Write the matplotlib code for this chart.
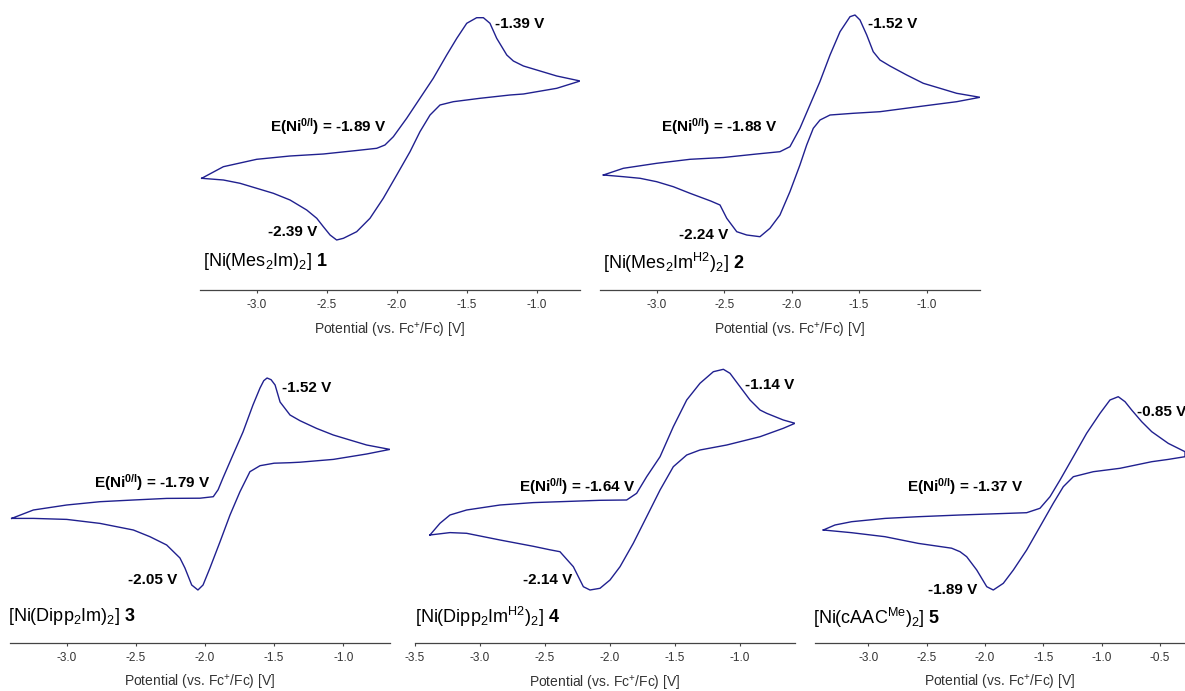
import matplotlib.pyplot as plt

# -------------------- STYLE --------------------
plt.rcParams.update({
    "font.family": ["Liberation Sans", "DejaVu Sans"],
    "mathtext.fontset": "custom",
    "mathtext.rm": "Liberation Sans",
    "mathtext.it": "Liberation Sans:italic",
    "mathtext.bf": "Liberation Sans:bold",
    "mathtext.default": "regular",
    "axes.unicode_minus": False,
})

CV_COLOR = "#20208f"
AXIS_COLOR = "#444444"
TEXT_COLOR = "#333333"

# -------------------- DATA (potential in V vs Fc+/Fc, current in a.u.) --------------------
# 1: [Ni(Mes2Im)2]  -- forward sweep then return sweep
p1_pot = [-3.393, -3.238, -3.000, -2.762, -2.524, -2.286, -2.143, -2.084, -2.024, -1.929,
          -1.834, -1.739, -1.643, -1.571, -1.500, -1.429, -1.381, -1.334, -1.286, -1.214,
          -1.167, -1.095, -0.976, -0.857, -0.690,
          -0.857, -1.095, -1.191, -1.405, -1.596, -1.691, -1.762, -1.834, -1.905, -2.000,
          -2.096, -2.191, -2.286, -2.381, -2.429, -2.476, -2.524, -2.571, -2.643, -2.762,
          -2.881, -3.000, -3.119, -3.238, -3.393]
p1_cur = [11.17, 12.33, 13.07, 13.40, 13.60, 13.95, 14.17, 14.50, 15.33, 17.17,
          19.17, 21.17, 23.50, 25.17, 26.67, 27.23, 27.23, 26.67, 25.17, 23.50,
          22.90, 22.40, 21.90, 21.40, 20.90,
          20.17, 19.60, 19.50, 19.17, 18.83, 18.50, 17.50, 15.83, 13.83, 11.50,
          9.17, 7.17, 5.83, 5.17, 5.00, 5.50, 6.33, 7.17, 8.00, 9.00,
          9.67, 10.17, 10.67, 11.00, 11.17]

# 2: [Ni(Mes2Im^H2)2]
p2_pot = [-3.395, -3.247, -3.000, -2.753, -2.506, -2.259, -2.087, -2.013, -1.939, -1.865,
          -1.791, -1.716, -1.642, -1.568, -1.531, -1.494, -1.444, -1.396, -1.346, -1.272,
          -1.148, -1.025, -0.901, -0.778, -0.605,
          -0.778, -1.025, -1.346, -1.544, -1.716, -1.790, -1.840, -1.889, -1.939, -2.013,
          -2.087, -2.161, -2.235, -2.333, -2.407, -2.481, -2.531, -2.600, -2.753, -2.877,
          -3.000, -3.123, -3.247, -3.395]
p2_cur = [11.50, 12.17, 12.67, 13.07, 13.25, 13.60, 13.83, 14.33, 16.17, 18.50,
          20.83, 23.50, 25.83, 27.33, 27.50, 27.00, 25.50, 23.83, 23.00, 22.40,
          21.50, 20.67, 20.17, 19.67, 19.27,
          18.83, 18.40, 17.83, 17.67, 17.50, 17.00, 16.17, 14.50, 12.50, 9.83,
          7.50, 6.17, 5.33, 5.50, 5.83, 7.17, 8.50, 8.90, 9.67, 10.33,
          10.83, 11.17, 11.33, 11.50]

# 3: [Ni(Dipp2Im)2]
p3_pot = [-3.398, -3.241, -3.000, -2.759, -2.518, -2.277, -2.036, -1.940, -1.905, -1.870,
          -1.798, -1.725, -1.653, -1.602, -1.575, -1.551, -1.522, -1.493, -1.457, -1.385,
          -1.313, -1.193, -1.072, -0.952, -0.831, -0.663,
          -0.831, -1.072, -1.313, -1.385, -1.500, -1.602, -1.675, -1.747, -1.819, -1.891,
          -1.964, -2.014, -2.051, -2.096, -2.145, -2.181, -2.277, -2.398, -2.518, -2.759,
          -3.000, -3.241, -3.398]
p3_cur = [12.43, 13.27, 13.77, 14.10, 14.27, 14.43, 14.45, 14.60, 15.30, 16.47,
          18.77, 21.07, 23.77, 25.47, 26.20, 26.47, 26.30, 25.77, 24.07, 22.77,
          22.20, 21.43, 20.77, 20.27, 19.77, 19.33,
          18.87, 18.33, 18.05, 18.00, 17.95, 17.70, 17.10, 15.10, 12.77, 10.10,
          7.47, 5.77, 5.27, 5.77, 7.47, 8.47, 9.77, 10.60, 11.27, 11.93,
          12.33, 12.43, 12.43]

# 4: [Ni(Dipp2Im^H2)2]
p4_pot = [-3.385, -3.308, -3.231, -3.103, -2.846, -2.590, -2.385, -2.077, -1.872, -1.795,
          -1.718, -1.615, -1.513, -1.410, -1.308, -1.205, -1.128, -1.077, -1.000, -0.923,
          -0.846, -0.795, -0.667, -0.577,
          -0.667, -0.846, -1.102, -1.308, -1.410, -1.513, -1.615, -1.718, -1.821, -1.923,
          -2.000, -2.077, -2.154, -2.205, -2.282, -2.385, -2.462, -2.590, -2.846, -3.103,
          -3.231, -3.385]
p4_cur = [10.83, 12.00, 12.83, 13.33, 13.83, 14.07, 14.16, 14.30, 14.33, 15.00,
          16.66, 18.66, 21.66, 24.33, 26.00, 27.16, 27.40, 27.00, 25.66, 24.33,
          23.33, 23.00, 22.33, 22.00,
          21.50, 20.66, 19.83, 19.33, 18.83, 17.66, 15.33, 12.66, 10.00, 7.66,
          6.33, 5.50, 5.33, 5.66, 7.66, 9.16, 9.35, 9.70, 10.33, 11.00,
          11.07, 10.83]

# 5: [Ni(cAAC^Me)2]
p5_pot = [-3.386, -3.286, -3.143, -2.857, -2.571, -2.214, -1.643, -1.529, -1.443, -1.357,
          -1.243, -1.129, -1.014, -0.929, -0.858, -0.800, -0.743, -0.657, -0.571, -0.429,
          -0.286,
          -0.286, -0.429, -0.571, -0.843, -1.072, -1.243, -1.329, -1.415, -1.529, -1.643,
          -1.757, -1.843, -1.929, -1.985, -2.071, -2.157, -2.214, -2.286, -2.571, -2.857,
          -3.143, -3.386]
p5_cur = [11.27, 11.77, 12.10, 12.43, 12.60, 12.77, 13.00, 13.44, 14.60, 16.27,
          18.60, 20.94, 22.94, 24.27, 24.60, 24.10, 23.27, 22.10, 21.10, 19.93,
          19.10,
          18.60, 18.33, 18.10, 17.44, 17.10, 16.60, 15.60, 13.94, 11.60, 9.27,
          7.27, 5.94, 5.27, 5.60, 7.27, 8.60, 9.10, 9.45, 9.93, 10.60,
          11.00, 11.27]

compound_names = [r"[Ni(Mes$_2$Im)$_2$] $\mathbf{1}$",
                  r"[Ni(Mes$_2$Im$^{H2}$)$_2$] $\mathbf{2}$",
                  r"[Ni(Dipp$_2$Im)$_2$] $\mathbf{3}$",
                  r"[Ni(Dipp$_2$Im$^{H2}$)$_2$] $\mathbf{4}$",
                  r"[Ni(cAAC$^{Me}$)$_2$] $\mathbf{5}$"]
e_half = ["-1.89", "-1.88", "-1.79", "-1.64", "-1.37"]
e_anodic = ["-1.39", "-1.52", "-1.52", "-1.14", "-0.85"]
e_cathodic = ["-2.39", "-2.24", "-2.05", "-2.14", "-1.89"]

tick_sets = [[-3.0, -2.5, -2.0, -1.5, -1.0],
             [-3.0, -2.5, -2.0, -1.5, -1.0],
             [-3.0, -2.5, -2.0, -1.5, -1.0],
             [-3.5, -3.0, -2.5, -2.0, -1.5, -1.0],
             [-3.0, -2.5, -2.0, -1.5, -1.0, -0.5]]

# -------------------- LAYOUT --------------------
W, H = 1185, 691
fig = plt.figure(figsize=(W / 100, H / 100), dpi=100)

# pixel box (left, right, top, bottom) and x limits of each panel
panel_boxes = [(200, 580, 0, 290), (600, 980, 0, 290),
               (10, 390, 360, 642.7), (415, 795, 360, 643.3), (815, 1185, 360, 642.7)]
panel_xlims = [(-3.405, -0.691), (-3.42, -0.605), (-3.41, -0.662),
               (-3.5, -0.577), (-3.457, -0.286)]
# label anchors in data coords: anodic (left), E1/2 (right), cathodic (right), name (left)
anchors = [
    [(-1.298, 26.6), (-2.071, 16.3), (-2.569, 5.8), (-3.383, 2.8)],
    [(-1.435, 26.6), (-2.109, 16.3), (-2.472, 5.5), (-3.398, 2.7)],
    [(-1.443, 25.5), (-1.964, 16.0), (-2.202, 6.3), (-3.424, 2.6)],
    [(-0.962, 25.8), (-1.808, 15.7), (-2.292, 6.3), (-3.500, 2.6)],
    [(-0.698, 23.1), (-1.674, 15.6), (-2.069, 5.3), (-3.474, 2.5)],
]

series = [(p1_pot, p1_cur), (p2_pot, p2_cur), (p3_pot, p3_cur),
          (p4_pot, p4_cur), (p5_pot, p5_cur)]

for k, (pot, cur) in enumerate(series):
    x0, x1, yt, yb = panel_boxes[k]
    ax = fig.add_axes([x0 / W, 1 - yb / H, (x1 - x0) / W, (yb - yt) / H])
    ax.patch.set_alpha(0)
    ax.plot(pot, cur, color=CV_COLOR, lw=1.0, solid_joinstyle="round")
    ax.set_xlim(*panel_xlims[k])
    ax.set_ylim(0, (yb - yt) / 10)

    for s in ("left", "right", "top"):
        ax.spines[s].set_visible(False)
    ax.spines["bottom"].set_color(AXIS_COLOR)
    ax.spines["bottom"].set_linewidth(0.9)
    ax.set_yticks([])
    ax.set_xticks(tick_sets[k])
    ax.set_xticklabels([f"{t:.1f}" for t in tick_sets[k]])
    ax.tick_params(axis="x", direction="out", length=2.5, width=0.8,
                   color=AXIS_COLOR, labelcolor=TEXT_COLOR, labelsize=8.5, pad=4)
    ax.set_xlabel(r"Potential (vs. Fc$^{+}$/Fc) [V]", fontsize=10,
                  color=TEXT_COLOR, labelpad=7)

    a_an, a_half, a_cat, a_name = anchors[k]
    ax.text(*a_an, f"{e_anodic[k]} V", fontsize=11, fontweight="bold",
            ha="left", va="center", color="black")
    ax.text(*a_half, "E(Ni$^{0/I}$) = " + f"{e_half[k]} V", fontsize=11,
            fontweight="bold", ha="right", va="center", color="black")
    ax.text(*a_cat, f"{e_cathodic[k]} V", fontsize=11, fontweight="bold",
            ha="right", va="center", color="black")
    ax.text(*a_name, compound_names[k], fontsize=13, ha="left", va="center",
            color="black")

fig.savefig("out.png", dpi=100)
